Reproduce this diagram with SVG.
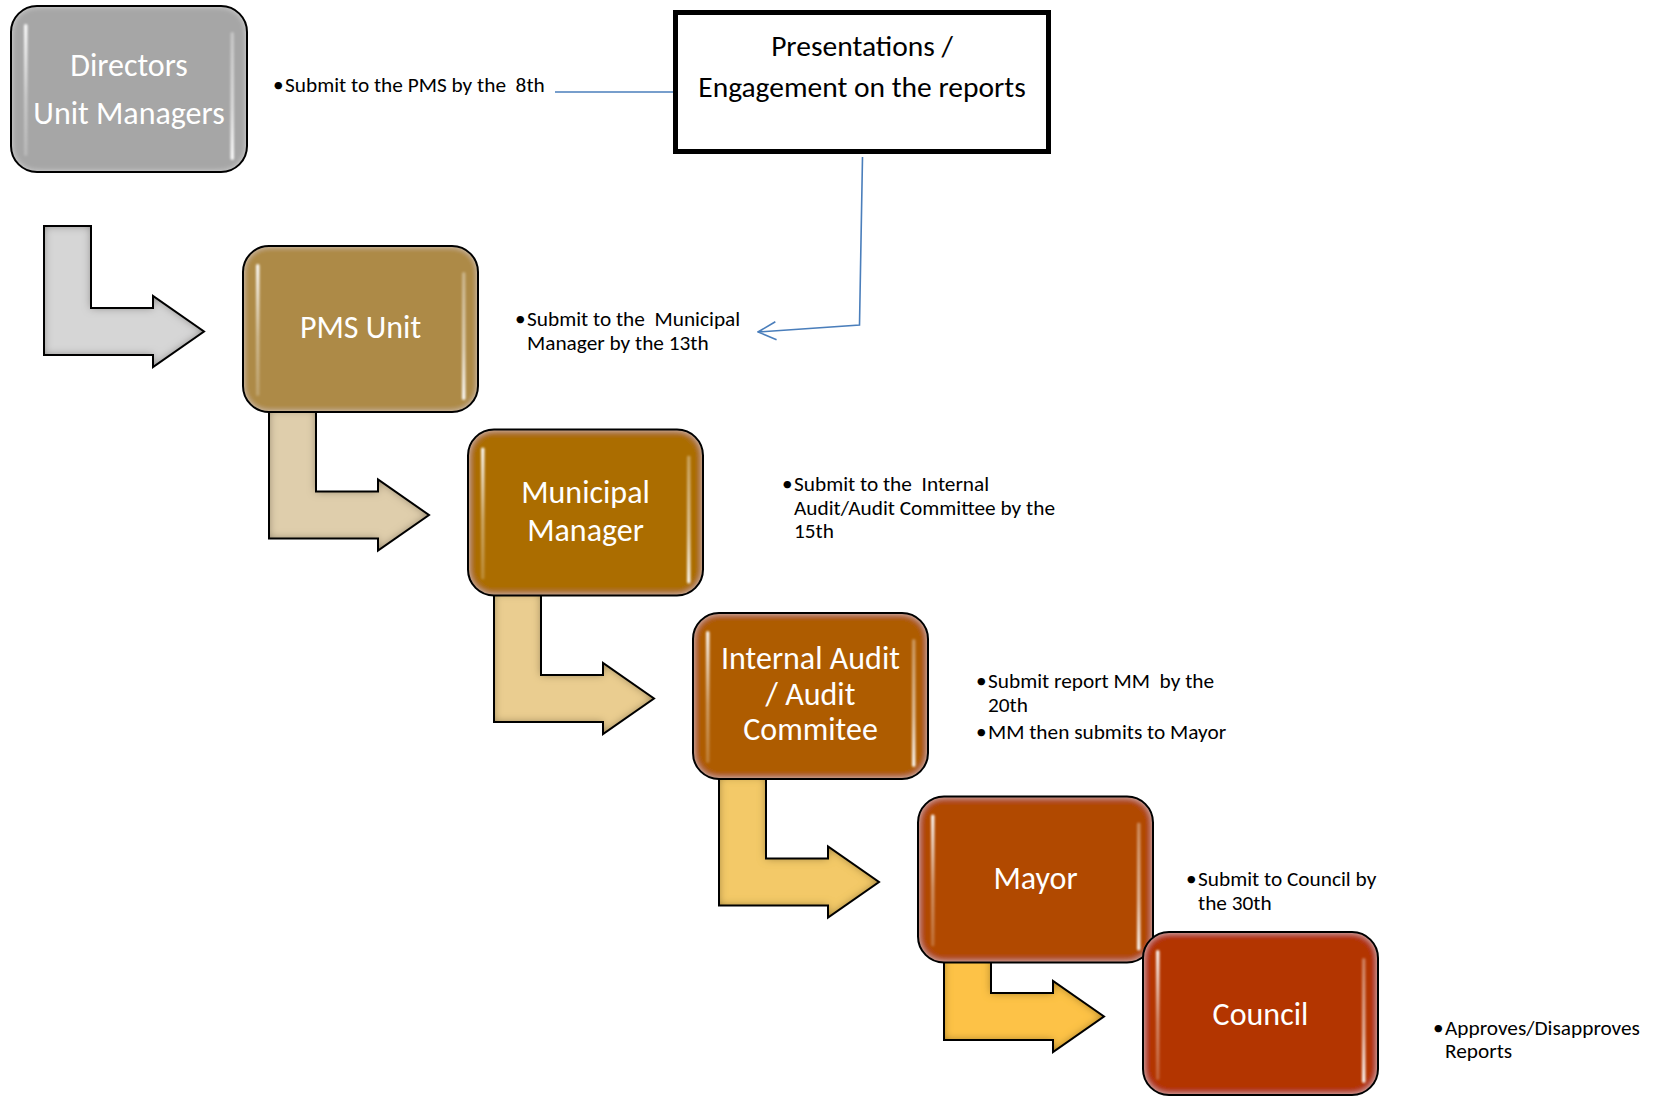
<svg xmlns="http://www.w3.org/2000/svg" width="1659" height="1096" viewBox="0 0 1659 1096">
<style>
  .nt { font-family: Calibri, Carlito, Lato, "Liberation Sans", sans-serif; font-size: 32px; fill: #ffffff; text-anchor: middle; }
  .pt { font-family: Calibri, Carlito, Lato, "Liberation Sans", sans-serif; font-size: 29.5px; fill: #000000; text-anchor: middle; }
  .bt { font-family: Calibri, Carlito, Lato, "Liberation Sans", sans-serif; font-size: 21.3px; fill: #000000; white-space: pre; }
  .edge { fill: none; stroke: #000000; stroke-width: 2; }
  .conn { fill: none; stroke: #4A7EBB; stroke-width: 1.6; }
  .hlL { fill: url(#hlgL); }
  .hlR { fill: url(#hlgR); }
</style>
<defs>
  <filter id="rim" x="-5%" y="-5%" width="110%" height="110%">
    <feGaussianBlur in="SourceAlpha" stdDeviation="3" result="b"/>
    <feComposite in="SourceAlpha" in2="b" operator="arithmetic" k2="1" k3="-1" result="e"/>
    <feFlood flood-color="#ffffff" flood-opacity="0.55"/>
    <feComposite in2="e" operator="in" result="r"/>
    <feMerge><feMergeNode in="SourceGraphic"/><feMergeNode in="r"/></feMerge>
  </filter>
  <filter id="bevel" x="-5%" y="-5%" width="110%" height="110%">
    <feGaussianBlur in="SourceAlpha" stdDeviation="4" result="b"/>
    <feComposite in="SourceAlpha" in2="b" operator="arithmetic" k2="1" k3="-1" result="e"/>
    <feFlood flood-color="#2a1a00" flood-opacity="0.75"/>
    <feComposite in2="e" operator="in" result="r"/>
    <feMerge><feMergeNode in="SourceGraphic"/><feMergeNode in="r"/></feMerge>
  </filter>
  <filter id="soft" x="-100%" y="-5%" width="300%" height="110%">
    <feGaussianBlur stdDeviation="0.8"/>
  </filter>
  <linearGradient id="hlgL" x1="0" y1="0" x2="0" y2="1">
    <stop offset="0" stop-color="#ffffff" stop-opacity="0.95"/>
    <stop offset="0.55" stop-color="#ffffff" stop-opacity="0.4"/>
    <stop offset="1" stop-color="#ffffff" stop-opacity="0.2"/>
  </linearGradient>
  <linearGradient id="hlgR" x1="0" y1="0" x2="0" y2="1">
    <stop offset="0" stop-color="#ffffff" stop-opacity="0.35"/>
    <stop offset="0.6" stop-color="#ffffff" stop-opacity="0.6"/>
    <stop offset="1" stop-color="#ffffff" stop-opacity="0.95"/>
  </linearGradient>
  <path id="bent" d="M44,226 H91 V308 H153 V296 L204,331.5 L153,367 V355 H44 Z"/>
  <marker id="openArrow" viewBox="0 0 20 20" refX="19" refY="10" markerWidth="20" markerHeight="20" markerUnits="userSpaceOnUse" orient="auto">
    <path d="M1,1 L19,10 L1,19" fill="none" stroke="#4A7EBB" stroke-width="1.6"/>
  </marker>
</defs>

<rect x="0" y="0" width="1659" height="1096" fill="#ffffff"/>

<!-- bent arrows between steps -->
<g id="step-arrows">
  <g id="arrow-0"><use href="#bent" fill="#D6D6D6" filter="url(#bevel)"/><use href="#bent" class="edge"/></g>
  <g id="arrow-1" transform="translate(225,183.5)"><use href="#bent" fill="#DFCEAC" filter="url(#bevel)"/><use href="#bent" class="edge"/></g>
  <g id="arrow-2" transform="translate(450,367)"><use href="#bent" fill="#EACD90" filter="url(#bevel)"/><use href="#bent" class="edge"/></g>
  <g id="arrow-3" transform="translate(675,550.5)"><use href="#bent" fill="#F3C967" filter="url(#bevel)"/><use href="#bent" class="edge"/></g>
  <g id="arrow-4" transform="translate(900,685)"><use href="#bent" fill="#FDC246" filter="url(#bevel)"/><use href="#bent" class="edge"/></g>
</g>

<!-- connectors -->
<g id="connectors">
  <line class="conn" x1="555" y1="92" x2="674" y2="92"/>
  <path class="conn" d="M862.5,157 L859.5,325 L758,332" marker-end="url(#openArrow)"/>
</g>

<!-- nodes -->
<g id="node-directors">
  <rect x="11" y="6" width="236" height="166" rx="26" fill="#A6A6A6" filter="url(#rim)"/>
  <rect x="11" y="6" width="236" height="166" rx="26" class="edge"/>
  <rect class="hlL" x="24" y="24" width="3.5" height="132" rx="1.75" filter="url(#soft)"/>
  <rect class="hlR" x="230.5" y="32" width="3.5" height="128" rx="1.75" filter="url(#soft)"/>
  <text class="nt" x="129" y="76">Directors</text>
  <text class="nt" x="129" y="124">Unit Managers</text>
</g>

<g id="node-presentations">
  <rect x="675.5" y="12.5" width="373" height="139" fill="#ffffff" stroke="#000000" stroke-width="5"/>
  <text class="pt" x="862" y="56">Presentations /</text>
  <text class="pt" x="862" y="97">Engagement on the reports</text>
</g>

<g id="node-pms">
  <rect x="243" y="246" width="235" height="166" rx="26" fill="#AD8A46" filter="url(#rim)"/>
  <rect x="243" y="246" width="235" height="166" rx="26" class="edge"/>
  <rect class="hlL" x="256" y="264" width="3.5" height="132" rx="1.75" filter="url(#soft)"/>
  <rect class="hlR" x="462" y="272" width="3.5" height="128" rx="1.75" filter="url(#soft)"/>
  <text class="nt" x="360.5" y="338">PMS Unit</text>
</g>

<g id="node-mm">
  <rect x="468" y="429.5" width="235" height="166" rx="26" fill="#AB6D00" filter="url(#rim)"/>
  <rect x="468" y="429.5" width="235" height="166" rx="26" class="edge"/>
  <rect class="hlL" x="481" y="447.5" width="3.5" height="132" rx="1.75" filter="url(#soft)"/>
  <rect class="hlR" x="687" y="455.5" width="3.5" height="128" rx="1.75" filter="url(#soft)"/>
  <text class="nt" x="585.5" y="502.5">Municipal</text>
  <text class="nt" x="585.5" y="540.5">Manager</text>
</g>

<g id="node-audit">
  <rect x="693" y="613" width="235" height="166" rx="26" fill="#AE5B00" filter="url(#rim)"/>
  <rect x="693" y="613" width="235" height="166" rx="26" class="edge"/>
  <rect class="hlL" x="706" y="631" width="3.5" height="132" rx="1.75" filter="url(#soft)"/>
  <rect class="hlR" x="912" y="639" width="3.5" height="128" rx="1.75" filter="url(#soft)"/>
  <text class="nt" x="810.5" y="669">Internal Audit</text>
  <text class="nt" x="810.5" y="704.5">/ Audit</text>
  <text class="nt" x="810.5" y="740">Commitee</text>
</g>

<g id="node-mayor">
  <rect x="918" y="796.5" width="235" height="166" rx="26" fill="#B14800" filter="url(#rim)"/>
  <rect x="918" y="796.5" width="235" height="166" rx="26" class="edge"/>
  <rect class="hlL" x="931" y="814.5" width="3.5" height="132" rx="1.75" filter="url(#soft)"/>
  <rect class="hlR" x="1137" y="822.5" width="3.5" height="128" rx="1.75" filter="url(#soft)"/>
  <text class="nt" x="1035.5" y="889">Mayor</text>
</g>

<g id="node-council">
  <rect x="1143" y="932" width="235" height="163" rx="26" fill="#B33600" filter="url(#rim)"/>
  <rect x="1143" y="932" width="235" height="163" rx="26" class="edge"/>
  <rect class="hlL" x="1156" y="950" width="3.5" height="130" rx="1.75" filter="url(#soft)"/>
  <rect class="hlR" x="1362" y="958" width="3.5" height="125" rx="1.75" filter="url(#soft)"/>
  <text class="nt" x="1260.5" y="1025">Council</text>
</g>

<!-- bullet notes -->
<g id="note-directors">
  <text class="bt" x="273" y="92">•</text>
  <text class="bt" x="285" y="92">Submit to the PMS by the  8th</text>
</g>
<g id="note-pms">
  <text class="bt" x="515" y="326">•</text>
  <text class="bt" x="527" y="326">Submit to the  Municipal</text>
  <text class="bt" x="527" y="350">Manager by the 13th</text>
</g>
<g id="note-mm">
  <text class="bt" x="782" y="491">•</text>
  <text class="bt" x="794" y="491">Submit to the  Internal</text>
  <text class="bt" x="794" y="514.5">Audit/Audit Committee by the</text>
  <text class="bt" x="794" y="538">15th</text>
</g>
<g id="note-audit">
  <text class="bt" x="976" y="688">•</text>
  <text class="bt" x="988" y="688">Submit report MM  by the</text>
  <text class="bt" x="988" y="711.5">20th</text>
  <text class="bt" x="976" y="739">•</text>
  <text class="bt" x="988" y="739">MM then submits to Mayor</text>
</g>
<g id="note-mayor">
  <text class="bt" x="1186" y="886">•</text>
  <text class="bt" x="1198" y="886">Submit to Council by</text>
  <text class="bt" x="1198" y="909.5">the 30th</text>
</g>
<g id="note-council">
  <text class="bt" x="1433" y="1035">•</text>
  <text class="bt" x="1445" y="1035">Approves/Disapproves</text>
  <text class="bt" x="1445" y="1058">Reports</text>
</g>
</svg>
